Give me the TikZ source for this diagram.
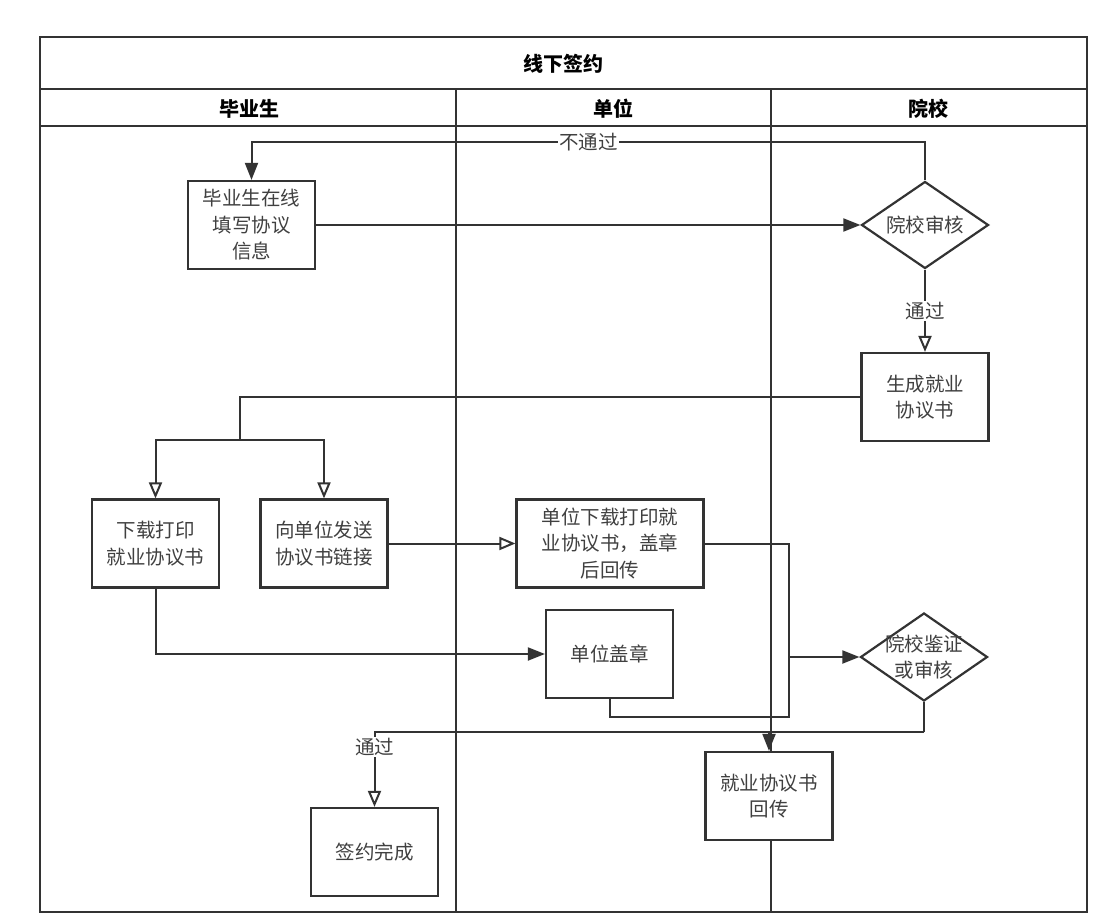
\documentclass[tikz,border=0pt]{standalone}
\usepackage{fontspec}
\setmainfont{Noto Sans CJK SC}
\usetikzlibrary{arrows.meta,shapes.geometric}
\definecolor{ln}{HTML}{333333}
\definecolor{tx}{HTML}{404040}
\begin{document}
\begin{tikzpicture}[x=1pt,y=-1pt,
  every node/.style={font=\fontsize{19.5}{26.5}\selectfont, text=tx},
  proc/.style={draw=ln, line width=2.2pt, fill=white, minimum width=127pt, minimum height=88pt, align=center, inner sep=0pt},
  dia/.style={draw=ln, line width=2.2pt, fill=white, diamond, minimum width=127pt, minimum height=87pt, inner sep=0pt},
  conn/.style={draw=ln, line width=2pt},
  fa/.style={conn, -{Triangle[length=17pt,width=13pt]}},
  oa/.style={conn, -{Triangle[open,length=16pt,width=13pt,fill=white]}},
  lbl/.style={fill=white, inner sep=1pt},
  lane/.style={draw=ln, line width=2pt},
  head/.style={font=\fontsize{20}{24}\selectfont\bfseries, text=black}
]
\useasboundingbox (0,0) rectangle (1108,917);
\fill[white] (0,0) rectangle (1108,917);

% swimlane frame
\draw[lane] (40,37) rectangle (1087,912);
\draw[lane] (40,89) -- (1087,89);
\draw[lane] (40,126) -- (1087,126);
\draw[lane] (456,89) -- (456,912);
\draw[lane] (771,89) -- (771,912);
\node[head] (title) at (563,64) {线下签约};
\node[head] (h1) at (249,109) {毕业生};
\node[head] (h2) at (613,109) {单位};
\node[head] (h3) at (928,109) {院校};

% nodes
\node[proc] (tb) at (251.5,225) {毕业生在线\\填写协议\\信息};
\node[dia] (shD) at (925,225) {};
\node (shT) at (shD) {院校审核};
\node[proc] (sc) at (925,397) {生成就业\\协议书};
\node[proc] (xz) at (155.5,543.5) {下载打印\\就业协议书};
\node[proc] (xs) at (324,543.5) {向单位发送\\协议书链接};
\node[proc, minimum width=187pt] (dx) at (610,543.5) {单位下载打印就\\业协议书，盖章\\后回传};
\node[proc] (gz) at (609.5,654) {单位盖章};
\node[dia, minimum height=88pt] (jz) at (924,657) {};
\node[align=center] (jzT) at (jz) {院校鉴证\\或审核};
\node[proc] (hc) at (769,796) {就业协议书\\回传};
\node[proc] (qy) at (374.5,852) {签约完成};

% connectors
\draw[fa] (tb.east) -- (shD.west);
\draw[fa] (shD.north) -- ++(0,-38) -| node[lbl, pos=0.25] {不通过} (tb.north);
\draw[oa] (shD.south) -- node[lbl] {通过} (sc.north);

\coordinate (br) at (240,440);
\draw[conn] (sc.west) -| (br);
\draw[oa] (br) -| (xz.north);
\draw[oa] (br) -| (xs.north);

\draw[oa] (xs.east) -- (dx.west);

\coordinate (j1) at (789,657);
\draw[conn] (dx.east) -| (j1);
\draw[fa] (j1) -- (jz.west);

\draw[fa] (xz.south) |- (gz.west);

\coordinate (j2) at (789,717);
\draw[conn] (gz.south) |- (j2) -- (j1);

\coordinate (j3) at (924,732);
\draw[conn] (jz.south) -- (j3);
\draw[fa] (j3) -| (hc.north);
\draw[oa] (j3) -| node[lbl, pos=0.6] {通过} (qy.north);
\end{tikzpicture}
\end{document}
